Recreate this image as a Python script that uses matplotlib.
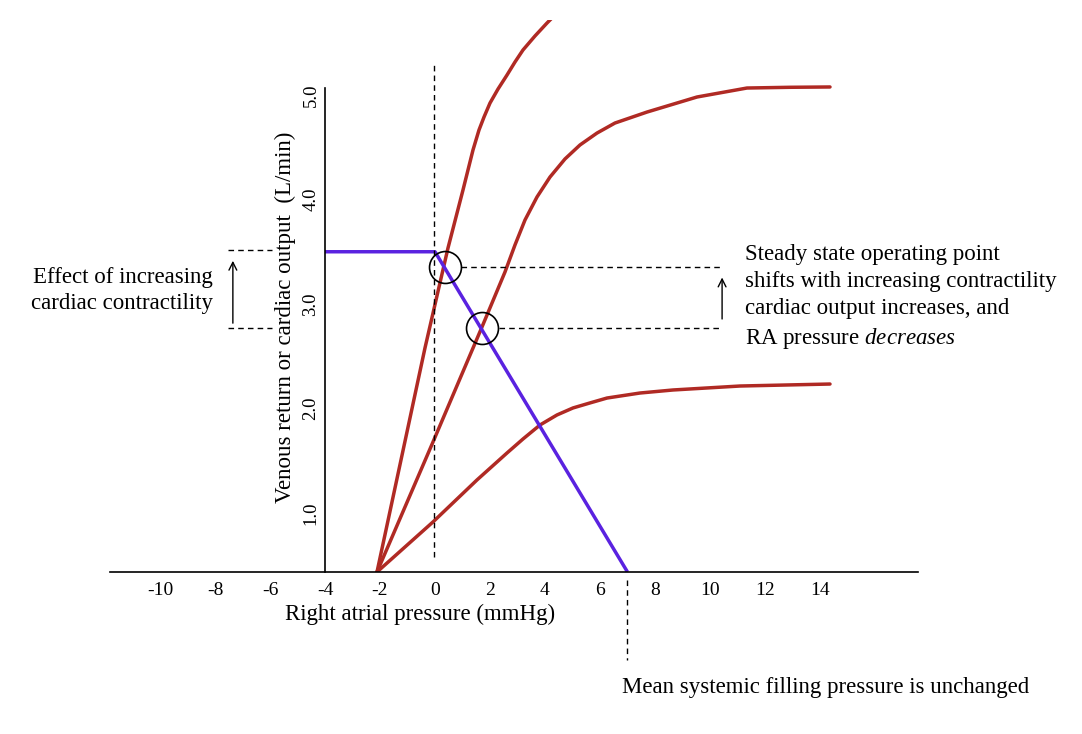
import numpy as np
import matplotlib
matplotlib.use("Agg")
import matplotlib.pyplot as plt

plt.rcParams['font.family'] = ['Liberation Serif', 'DejaVu Serif']
plt.rcParams['mathtext.fontset'] = 'custom'
plt.rcParams['mathtext.rm'] = 'Liberation Serif'
plt.rcParams['mathtext.it'] = 'Liberation Serif:italic'

# venous return curve (L/min vs mmHg)
vr_x = [-4.0, 0.0, 7.0]
vr_y = [3.5, 3.5, 0.435]

# cardiac function curves
co_high_x = [-2.109, -0.364, 0.473, 1.018, 1.382, 1.600, 1.782, 2.000, 2.291,
             2.618, 2.909, 3.200, 3.636, 4.073, 4.400]
co_high_y = [0.435, 2.579, 3.536, 4.091, 4.474, 4.665, 4.789, 4.923, 5.057,
             5.191, 5.316, 5.431, 5.565, 5.689, 5.776]

co_mid_x = [-2.109, -0.073, 1.709, 2.545, 2.909, 3.273, 3.709, 4.182, 4.727,
            5.273, 5.891, 6.545, 7.709, 9.527, 11.345, 12.91, 14.364]
co_mid_y = [0.435, 1.679, 2.780, 3.306, 3.565, 3.804, 4.024, 4.215, 4.388,
            4.522, 4.636, 4.732, 4.837, 4.981, 5.067, 5.074, 5.077]

co_low_x = [-2.109, -0.073, 1.527, 2.618, 3.200, 3.818, 4.436, 5.018, 5.636,
            6.255, 7.455, 8.655, 11.091, 14.364]
co_low_y = [0.435, 0.914, 1.316, 1.574, 1.708, 1.842, 1.938, 2.005, 2.053,
            2.100, 2.148, 2.177, 2.215, 2.234]

# steady state operating points
op_x = [0.36, 1.71]
op_y = [3.35, 2.77]

x_ticks = [-10, -8, -6, -4, -2, 0, 2, 4, 6, 8, 10, 12, 14]
y_ticks = [1, 2, 3, 4, 5]
y_tick_labels = ['1.0', '2.0', '3.0', '4.0', '5.0']

red = '#b02a24'
blue = '#5a22e0'

fig = plt.figure(figsize=(10.82, 7.34), dpi=100)
ax = fig.add_axes([110 / 1082, (734 - 572) / 734, 808 / 1082, 552 / 734])
ax.set_xlim(-11.818, 17.564)
ax.set_ylim(0.435, 5.718)

# curves
for cx, cy in [(co_high_x, co_high_y), (co_mid_x, co_mid_y), (co_low_x, co_low_y)]:
    ax.plot(cx, cy, color=red, lw=2.5, solid_capstyle='round', solid_joinstyle='round')
ax.plot(vr_x, vr_y, color=blue, lw=2.5, solid_capstyle='butt')

# operating point circles
ax.plot(op_x, op_y, 'o', ms=23, mfc='none', mec='black', mew=1.2)

dash = (0, (4, 3))
# vertical dashed line at RA pressure 0
ax.plot([-0.05, -0.05], [0.58, 5.29], color='black', lw=1, ls=dash, clip_on=False)
# dashed lines from operating points
ax.plot([op_x[0] + 0.6, 10.44], [op_y[0], op_y[0]], color='black', lw=1, ls=dash)
ax.plot([op_x[1] + 0.6, 10.44], [op_y[1], op_y[1]], color='black', lw=1, ls=dash)
ax.annotate('', xy=(10.44, 3.28), xytext=(10.44, 2.83),
            arrowprops=dict(arrowstyle='->', lw=1, color='black', mutation_scale=14))

# left annotation
ax.plot([-7.53, -5.93], [3.52, 3.52], color='black', lw=1, ls=dash)
ax.plot([-7.53, -5.93], [2.77, 2.77], color='black', lw=1, ls=dash)
ax.annotate('', xy=(-7.35, 3.44), xytext=(-7.35, 2.79),
            arrowprops=dict(arrowstyle='->', lw=1, color='black', mutation_scale=14))
ax.text(-8.07, 3.13, 'Effect of increasing\ncardiac contractility',
        ha='right', va='center', fontsize=16.5, linespacing=1.32, clip_on=False)

# right annotation
ax.text(11.27, 3.06,
        'Steady state operating point\nshifts with increasing contractility\n'
        'cardiac output increases, and\nRA pressure $\\mathit{decreases}$',
        ha='left', va='center', fontsize=16.5, linespacing=1.38, clip_on=False)

# mean systemic filling pressure
ax.plot([7, 7], [0.36, -0.41], color='black', lw=1, ls=dash, clip_on=False)
ax.text(6.8, -0.675, 'Mean systemic filling pressure is unchanged',
        ha='left', va='center', fontsize=16.5, clip_on=False)

# axes styling
for s in ['top', 'right']:
    ax.spines[s].set_visible(False)
ax.spines['left'].set_position(('data', -4))
ax.spines['left'].set_bounds(0.435, 5.07)
ax.spines['left'].set_linewidth(1.2)
ax.spines['bottom'].set_linewidth(1.2)

ax.set_xticks(x_ticks)
ax.set_xticklabels([str(t) for t in x_ticks], fontsize=14)
ax.set_yticks(y_ticks)
ax.set_yticklabels(y_tick_labels, fontsize=13.5, rotation=90, va='center')
ax.tick_params(axis='x', length=0, pad=7)
ax.tick_params(axis='y', length=0, pad=4)

ax.text(-0.55, 0.025, 'Right atrial pressure (mmHg)', ha='center', va='center',
        fontsize=16.5, clip_on=False)
ax.text(-5.45, 2.876, 'Venous return or cardiac output  (L/min)', rotation=90,
        ha='center', va='center', fontsize=16.5, clip_on=False)

fig.savefig('out.png', dpi=100)
